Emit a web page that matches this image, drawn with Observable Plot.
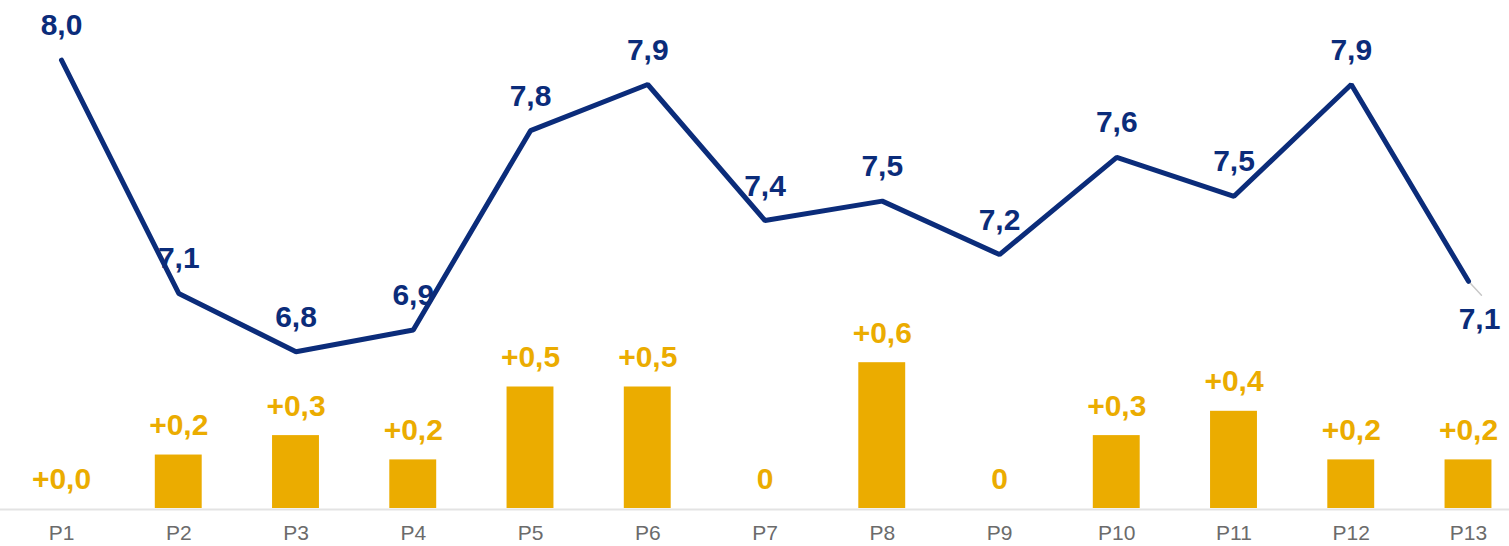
<!DOCTYPE html>
<html><head><meta charset="utf-8">
<script src="https://cdn.jsdelivr.net/npm/d3@7"></script>
<script src="https://cdn.jsdelivr.net/npm/@observablehq/plot@0.6"></script>
<style>
body{margin:0;background:#fff;}
#chart{position:relative;width:1509px;height:546px;overflow:hidden;}
#chart svg{position:absolute;left:0;top:0;}
</style></head><body><div id="chart"></div>
<script>
const periods = ["P1","P2","P3","P4","P5","P6","P7","P8","P9","P10","P11","P12","P13"];
const scores = [8.0, 7.04, 6.8, 6.89, 7.71, 7.9, 7.34, 7.42, 7.2, 7.6, 7.44, 7.9, 7.09];
const scoreLabels = ["8,0","7,1","6,8","6,9","7,8","7,9","7,4","7,5","7,2","7,6","7,5","7,9","7,1"];
const changes = [0, 0.22, 0.3, 0.2, 0.5, 0.5, 0, 0.6, 0, 0.3, 0.4, 0.2, 0.2];
const changeLabels = ["+0,0","+0,2","+0,3","+0,2","+0,5","+0,5","0","+0,6","0","+0,3","+0,4","+0,2","+0,2"];

const NAVY = "#0B2C7A", GOLD = "#EBAC00";
const FONT = "'Liberation Sans', Arial, sans-serif";

const lineData = periods.map((p, i) => ({p, v: scores[i], label: scoreLabels[i]}));
const barData = periods.map((p, i) => ({p, v: changes[i], label: changeLabels[i]}));
const lastIdx = periods.length - 1;

const xScale = {domain: periods, range: [2.375, 1526.625], paddingInner: 0.6, paddingOuter: 0.3, align: 0.5, round: false};

const bars = Plot.plot({
  width: 1509, height: 546,
  marginTop: 0, marginLeft: 0, marginRight: 0, marginBottom: 38,
  x: {...xScale},
  y: {domain: [0, 1], range: [508, 265], axis: null},
  style: {fontFamily: FONT, background: "transparent"},
  marks: [
    Plot.ruleY([0], {stroke: "#e3e3e3", strokeWidth: 2, dy: 1}),
    Plot.barY(barData, {x: "p", y: "v", fill: GOLD}),
    Plot.text(barData, {x: "p", y: "v", text: "label", dy: -20, lineAnchor: "bottom",
      fill: GOLD, fontSize: 30, fontWeight: "bold"}),
    Plot.axisX({tickSize: 0, tickPadding: 17, fontSize: 21, color: "#6b6b6b", label: null})
  ]
});

const leader = {draw(context, l) { context.moveTo(0, 0); context.lineTo(0, -l); }};

const line = Plot.plot({
  width: 1509, height: 546, margin: 0,
  x: {...xScale, axis: null},
  y: {domain: [6, 8], range: [545.7, 59.7], axis: null},
  style: {fontFamily: FONT, background: "transparent"},
  marks: [
    Plot.vector(lineData.filter((d, i) => i === lastIdx), {x: "p", y: "v", rotate: 137, length: 19,
      anchor: "start", stroke: "#c8c8c8", strokeWidth: 1.5, shape: leader}),
    Plot.line(lineData, {x: "p", y: "v", stroke: NAVY, strokeWidth: 5, strokeLinejoin: "miter"}),
    Plot.text(lineData.filter((d, i) => i !== lastIdx), {x: "p", y: "v", text: "label", dy: -25,
      lineAnchor: "bottom", fill: NAVY, fontSize: 30, fontWeight: "bold"}),
    Plot.text(lineData.filter((d, i) => i === lastIdx), {x: "p", y: "v", text: "label", dx: 11, dy: 48,
      lineAnchor: "bottom", fill: NAVY, fontSize: 30, fontWeight: "bold"})
  ]
});

const el = document.getElementById("chart");
el.append(bars, line);
</script></body></html>
